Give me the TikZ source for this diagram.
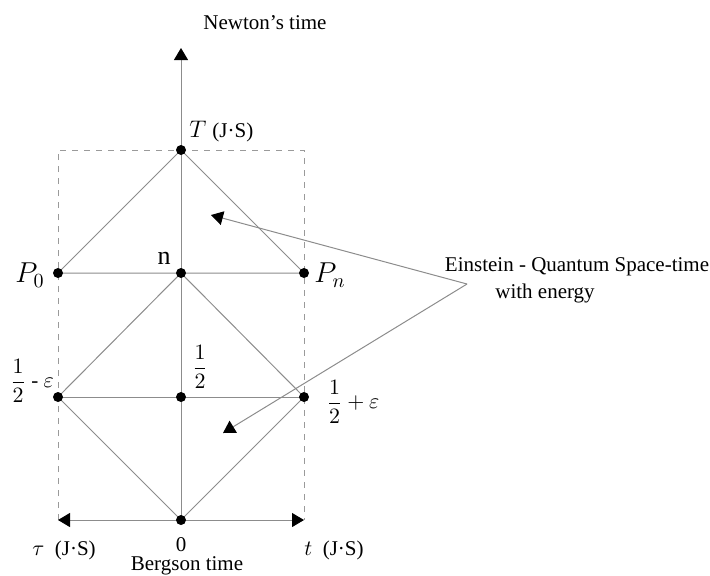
\documentclass[tikz,border=0pt]{standalone}
\usepackage{fontspec}
\setmainfont{Liberation Serif}
\usepackage{amsmath}
\usetikzlibrary{arrows.meta,backgrounds}
\definecolor{linegray}{HTML}{8C8C8C}
\definecolor{dashgray}{HTML}{9A9A9A}
\tikzset{
  dot/.style={circle, fill=black, inner sep=0pt, minimum size=5pt},
  ln/.style={draw=linegray, line width=0.5pt},
  axis/.style={ln, -{Triangle[length=6pt,width=7pt,color=black]}},
  lbl/.style={inner sep=0pt, font=\fontsize{10.5}{12}\selectfont},
  biglbl/.style={inner sep=0pt, font=\fontsize{14}{16}\selectfont}
}

\begin{document}
\begin{tikzpicture}[x=0.5pt, y=-0.5pt]
\useasboundingbox (0,0) rectangle (710,575);

% points
\node[dot] (T)  at (181,150) {};
\node[dot] (P0) at (58,273)  {};
\node[dot] (n)  at (181,273) {};
\node[dot] (Pn) at (304,273) {};
\node[dot] (hl) at (58,397)  {};
\node[dot] (hc) at (181,397) {};
\node[dot] (hr) at (304,397) {};
\node[dot] (O)  at (181,520) {};
\coordinate (top) at (181,48);
\coordinate (left) at (58,520);
\coordinate (right) at (304,520);

\begin{scope}[on background layer]
% frame
\draw[dashgray, dashed, line width=0.5pt] (left) -- (P0.center) -- (58,150) -- (304,150) -- (right);
% lines
\draw[ln] (T.center) -- (P0.center) -- (Pn.center) -- cycle;
\draw[ln] (n.center) -- (hl.center) -- (O.center) -- (hr.center) -- cycle;
\draw[ln] (hl.center) -- (hr.center);
\draw[axis] (O.center) -- (top);
\draw[axis] (O.center) -- (left);
\draw[axis] (O.center) -- (right);
\end{scope}

% callout
\coordinate (apex) at (467,284);
\coordinate (tipA) at (211,215);
\coordinate (tipB) at (223,433);
\draw[axis] (apex) -- (tipA);
\draw[axis] (apex) -- (tipB);
\node[lbl] (ein) at (577,267) {Einstein - Quantum Space-time};
\node[lbl] (ene) at (545,293) {with energy};

% labels
\node[lbl] (newton) at (265,23) {Newton’s time};
\node[lbl, anchor=west] (Tl) at (189,132) {\fontsize{12}{14}\selectfont$T$ \fontsize{10.5}{12}\selectfont(J·S)};
\node[biglbl] (P0l) at (30,275) {$P_0$};
\node[lbl, font=\fontsize{13}{15}\selectfont] (nl) at (164,258) {n};
\node[biglbl] (Pnl) at (330,275) {$P_n$};
\node[lbl] (hll) at (32,381) {$\displaystyle\frac{1}{2}$ - $\varepsilon$};
\node[lbl] (hcl) at (200,367) {$\displaystyle\frac{1}{2}$};
\node[lbl] (hrl) at (353,402) {$\displaystyle\frac{1}{2}+\varepsilon$};
\node[lbl] (taul) at (64,550) {$\tau$\enspace(J·S)};
\node[lbl] (Ol) at (181,545) {0};
\node[lbl] (berg) at (187,566) {Bergson time};
\node[lbl] (tl) at (334,550) {$t$\enspace(J·S)};
\end{tikzpicture}
\end{document}
